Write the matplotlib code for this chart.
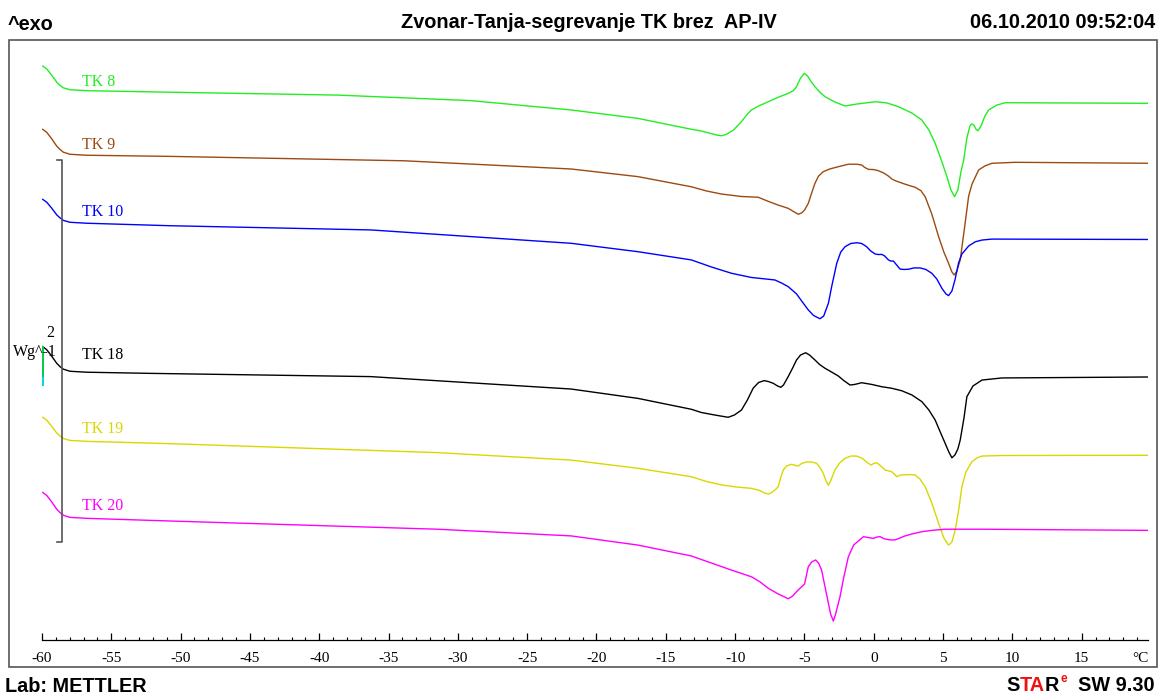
import numpy as np
import matplotlib.pyplot as plt
from matplotlib.patches import Rectangle
from matplotlib.ticker import MultipleLocator

plt.rcParams['axes.unicode_minus'] = False

W, H = 1161, 695

# temperature in degC, heat flow in W/g (curves stacked as displayed)
start_t = [-59.95, -59.66, -59.30, -58.94, -58.70, -58.46, -57.98, -56.77]

tk8_t = start_t + [-50.75, -38.70, -29.06, -21.83, -17.01, -13.16,
                   -12.43, -11.35, -10.99, -10.63, -10.12, -9.54, -9.11, -8.82, -8.24, -7.61,
                   -6.94, -6.17, -5.78, -5.57, -5.28, -5.01, -4.77, -4.55, -4.24, -3.90,
                   -3.52, -2.82, -2.07, -1.23, 0.10, 0.94, 1.79, 2.75, 3.47, 3.98,
                   4.43, 4.92, 5.28, 5.57, 5.83, 6.07, 6.29, 6.49, 6.72, 6.94,
                   7.05, 7.23, 7.37, 7.52, 7.74, 8.02, 8.29, 8.89, 9.49, 19.75]
tk8_q = [3.005, 2.990, 2.957, 2.921, 2.904, 2.891, 2.881, 2.876,
         2.868, 2.853, 2.824, 2.775, 2.731, 2.674,
         2.665, 2.644, 2.640, 2.647, 2.670, 2.714, 2.754, 2.775, 2.798, 2.818,
         2.840, 2.862, 2.877, 2.897, 2.942, 2.967, 2.953, 2.927, 2.897, 2.869,
         2.845, 2.817, 2.796, 2.806, 2.818, 2.812, 2.792, 2.759, 2.723, 2.670,
         2.601, 2.503, 2.426, 2.356, 2.321, 2.356, 2.450, 2.513, 2.628, 2.691,
         2.702, 2.696, 2.675, 2.666, 2.691, 2.743, 2.775, 2.801, 2.813, 2.810]

tk9_t = start_t + [-50.75, -33.88, -21.83, -17.01, -13.16,
                   -12.07, -10.99, -9.54, -8.33, -7.66, -6.89, -6.17, -5.78, -5.44, -5.20,
                   -4.99, -4.72, -4.48, -4.24, -3.98, -3.64, -3.18, -2.55, -1.83, -1.23,
                   -0.87, -0.65, -0.38, 0.00, 0.34, 0.72, 1.06, 1.30, 1.54, 2.24,
                   2.99, 3.40, 3.71, 4.19, 4.68, 5.06, 5.40, 5.64, 5.81, 6.00,
                   6.24, 6.51, 6.85, 7.09, 7.57, 8.02, 8.53, 10.22, 19.75]
tk9_q = [2.674, 2.658, 2.624, 2.586, 2.568, 2.554, 2.543, 2.538,
         2.532, 2.509, 2.466, 2.426, 2.373,
         2.351, 2.335, 2.322, 2.318, 2.298, 2.277, 2.260, 2.243, 2.229, 2.236,
         2.251, 2.286, 2.340, 2.391, 2.429, 2.452, 2.466, 2.478, 2.491, 2.491,
         2.487, 2.474, 2.464, 2.463, 2.457, 2.445, 2.429, 2.414, 2.405, 2.387,
         2.370, 2.353, 2.321, 2.230, 2.112, 2.031, 1.972, 1.927, 1.911, 1.932,
         1.990, 2.136, 2.325, 2.387, 2.461, 2.482, 2.496, 2.501, 2.496]

tk10_t = start_t + [-50.75, -36.29, -21.83, -17.01, -13.16,
                    -11.71, -10.26, -8.82, -7.13, -6.65, -6.17, -5.57, -5.20, -4.72, -4.34,
                    -3.88, -3.61, -3.27, -3.04, -2.67, -2.38, -2.07, -1.66, -1.23, -0.87,
                    -0.51, -0.22, 0.10, 0.36, 0.58, 0.80, 1.06, 1.23, 1.42, 1.59,
                    1.90, 2.17, 2.51, 2.89, 3.35, 3.76, 4.19, 4.55, 4.92, 5.21,
                    5.40, 5.64, 5.86, 6.12, 6.36, 6.85, 7.33, 7.81, 8.53, 19.75]
tk10_q = [2.307, 2.292, 2.261, 2.226, 2.210, 2.197, 2.187, 2.182,
          2.169, 2.147, 2.077, 2.033, 1.990,
          1.953, 1.920, 1.898, 1.885, 1.869, 1.850, 1.812, 1.775, 1.728, 1.699,
          1.682, 1.696, 1.763, 1.848, 1.972, 2.031, 2.059, 2.076, 2.080, 2.076,
          2.059, 2.037, 2.021, 2.018, 2.019, 2.010, 1.990, 1.984, 1.984, 1.969,
          1.942, 1.940, 1.941, 1.948, 1.948, 1.940, 1.920, 1.890, 1.841, 1.812,
          1.803, 1.827, 1.885, 1.974, 2.021, 2.063, 2.085, 2.094, 2.099, 2.097]

tk18_t = start_t + [-52.19, -36.29, -21.83, -17.01, -13.16,
                    -12.43, -11.47, -10.50, -10.05, -9.54, -9.11, -8.70, -8.31, -7.90, -7.59,
                    -7.25, -6.94, -6.70, -6.51, -6.17, -5.85, -5.57, -5.28, -4.91, -4.63,
                    -4.24, -3.90, -3.52, -3.04, -2.55, -2.17, -1.71, -1.37, -0.87, -0.14,
                    0.58, 1.30, 2.02, 2.75, 3.47, 3.98, 4.43, 4.77, 5.15, 5.42,
                    5.64, 5.86, 6.07, 6.24, 6.51, 6.72, 7.16, 7.81, 9.25, 19.75]
tk18_q = [1.536, 1.520, 1.486, 1.449, 1.431, 1.418, 1.407, 1.402,
          1.396, 1.379, 1.314, 1.265, 1.208,
          1.191, 1.178, 1.166, 1.178, 1.204, 1.257, 1.318, 1.348, 1.358, 1.353,
          1.344, 1.330, 1.323, 1.335, 1.379, 1.424, 1.466, 1.492, 1.504, 1.492,
          1.466, 1.442, 1.423, 1.403, 1.382, 1.359, 1.335, 1.338, 1.347, 1.338,
          1.326, 1.318, 1.305, 1.283, 1.248, 1.204, 1.152, 1.094, 1.030, 0.984,
          0.954, 0.969, 1.000, 1.047, 1.162, 1.274, 1.330, 1.361, 1.372, 1.377]

tk19_t = start_t + [-50.75, -31.47, -21.83, -17.01, -13.16,
                    -12.07, -10.99, -9.90, -8.82, -8.24, -7.88, -7.57, -7.30, -7.08, -6.89,
                    -6.72, -6.53, -6.29, -5.93, -5.64, -5.44, -5.20, -4.84, -4.48, -4.12,
                    -3.90, -3.64, -3.47, -3.27, -3.11, -2.80, -2.46, -2.07, -1.66, -1.23,
                    -0.87, -0.63, -0.43, -0.19, 0.00, 0.22, 0.51, 0.82, 1.09, 1.30,
                    1.48, 1.66, 1.95, 2.26, 2.60, 2.99, 3.33, 3.71, 4.19, 4.68,
                    5.06, 5.40, 5.64, 5.88, 6.15, 6.36, 6.65, 7.09, 7.45, 7.81,
                    9.25, 19.75]
tk19_q = [1.166, 1.151, 1.119, 1.084, 1.068, 1.055, 1.045, 1.040,
          1.028, 0.981, 0.942, 0.899, 0.855,
          0.830, 0.812, 0.801, 0.794, 0.783, 0.770, 0.764, 0.775, 0.788, 0.803,
          0.848, 0.890, 0.911, 0.920, 0.914, 0.911, 0.924, 0.932, 0.932, 0.925,
          0.906, 0.873, 0.838, 0.810, 0.832, 0.890, 0.927, 0.951, 0.963, 0.963,
          0.953, 0.939, 0.927, 0.916, 0.924, 0.928, 0.911, 0.890, 0.885, 0.881,
          0.869, 0.855, 0.864, 0.865, 0.866, 0.864, 0.843, 0.803, 0.717, 0.611,
          0.534, 0.497, 0.513, 0.576, 0.691, 0.803, 0.880, 0.934, 0.953, 0.963,
          0.966, 0.967]

tk20_t = start_t + [-50.75, -31.47, -21.83, -17.01, -13.16,
                    -11.71, -10.26, -8.82, -8.24, -7.61, -6.94, -6.17, -5.85, -5.57, -5.20,
                    -4.99, -4.72, -4.48, -4.19, -3.98, -3.76, -3.54, -3.27, -3.11, -2.91,
                    -2.75, -2.43, -2.17, -1.83, -1.45, -0.74, -0.43, -0.02, 0.22, 0.46,
                    0.72, 0.94, 1.23, 1.54, 1.88, 2.26, 2.75, 3.47, 4.19, 5.15,
                    6.36, 7.81, 19.75]
tk20_q = [0.773, 0.757, 0.723, 0.685, 0.667, 0.653, 0.642, 0.637,
          0.623, 0.580, 0.545, 0.497, 0.440,
          0.403, 0.366, 0.331, 0.306, 0.271, 0.243, 0.216, 0.230, 0.253, 0.279,
          0.293, 0.384, 0.408, 0.419, 0.403, 0.366, 0.288, 0.192, 0.136, 0.099,
          0.136, 0.227, 0.325, 0.436, 0.497, 0.541, 0.537, 0.532, 0.539, 0.541,
          0.531, 0.527, 0.524, 0.524, 0.534, 0.545, 0.555, 0.567, 0.574, 0.580,
          0.580, 0.580, 0.574]

curves = [
    ("TK 8", tk8_t, tk8_q, "#22ee22", 2.921),
    ("TK 9", tk9_t, tk9_q, "#9c4a12", 2.592),
    ("TK 10", tk10_t, tk10_q, "#0000ff", 2.242),
    ("TK 18", tk18_t, tk18_q, "#000000", 1.492),
    ("TK 19", tk19_t, tk19_q, "#d8d800", 1.105),
    ("TK 20", tk20_t, tk20_q, "#ff00ff", 0.702),
]

fig = plt.figure(figsize=(W / 100, H / 100), dpi=100)
ax = fig.add_axes([42 / W, 55 / H, (1147.5 - 42) / W, 600 / H])
ax.set_xlim(-60, 19.75)
ax.set_ylim(0, 600 / 191)

for name, t, q, col, ylab in curves:
    ax.plot(t, q, color=col, lw=1.0, solid_joinstyle='round')
    ax.text(-57.1, ylab, name, color=col, fontsize=11.5, family='Liberation Serif',
            ha='left', va='center')

# scale bar: 2 W/g
sb_x, sb_lo = -58.55, 0.515
ax.plot([sb_x - 0.35, sb_x, sb_x, sb_x - 0.35], [sb_lo, sb_lo, sb_lo + 2, sb_lo + 2],
        color='#555555', lw=1.2, clip_on=False)
ax.plot([-59.9, -59.9], [1.335, 1.534], color='#00cc44', lw=1.4)
ax.plot([-59.9, -59.9], [1.335, 1.37], color='#00dddd', lw=1.4)

for s in ['top', 'left', 'right']:
    ax.spines[s].set_visible(False)
ax.spines['bottom'].set_linewidth(0.9)
ax.set_yticks([])
ax.xaxis.set_major_locator(MultipleLocator(5))
ax.xaxis.set_minor_locator(MultipleLocator(1))
ax.set_xticks(np.arange(-60, 16, 5))
ax.tick_params(axis='x', which='major', direction='in', length=5, width=0.9, pad=9,
               labelsize=11, labelfontfamily='Liberation Serif')
ax.tick_params(axis='x', which='minor', direction='in', length=2.5, width=0.8)
ax.annotate('°C', xy=(1.0, 0), xycoords='axes fraction', xytext=(1, -9),
            textcoords='offset points', ha='right', va='top', fontsize=11,
            family='Liberation Serif')

# frame and header / footer
fig.patches.append(Rectangle((9 / W, 1 - 667 / H), (1157 - 9) / W, (667 - 40) / H,
                             transform=fig.transFigure, fill=False,
                             edgecolor='#555555', lw=1.2))
hdr = dict(fontsize=14.3, fontweight='bold', family='Liberation Sans', va='baseline')
fig.text(8 / W, 1 - 30 / H, '^exo', ha='left', **hdr)
fig.text(589 / W, 1 - 28 / H, 'Zvonar-Tanja-segrevanje TK brez  AP-IV', ha='center', **hdr)
fig.text(1155 / W, 1 - 28 / H, '06.10.2010 09:52:04', ha='right', **hdr)
fig.text(5 / W, 1 - 692 / H, 'Lab: METTLER', ha='left', **hdr)

fig.text(13 / W, 1 - 352 / H, 'Wg^-1', fontsize=11.5, family='Liberation Serif',
         ha='left', va='center')
fig.text(50 / W, 1 - 333 / H, '2', fontsize=11.5, family='Liberation Serif',
         ha='center', va='center')

foot = dict(fontsize=14.3, fontweight='bold', family='Liberation Sans')
t1 = fig.text(1006 / W, 1 - 691 / H, 'S', ha='left', va='baseline', color='black', **foot)
t2 = ax.annotate('TA', xy=(1, 0), xycoords=t1, ha='left', va='bottom', color='#ee1111',
                 **foot)
t3 = ax.annotate('R', xy=(1, 0), xycoords=t2, ha='left', va='bottom', color='black',
                 **foot)
t4 = ax.annotate('e', xy=(1, 0.5), xycoords=t3, xytext=(1, 0), textcoords='offset points',
                 ha='left', va='bottom', color='#ee1111', fontsize=8.5,
                 fontweight='bold', family='Liberation Sans')
fig.text(1155 / W, 1 - 691 / H, 'SW 9.30', ha='right', va='baseline', color='black', **foot)

fig.savefig('out.png', dpi=100)
